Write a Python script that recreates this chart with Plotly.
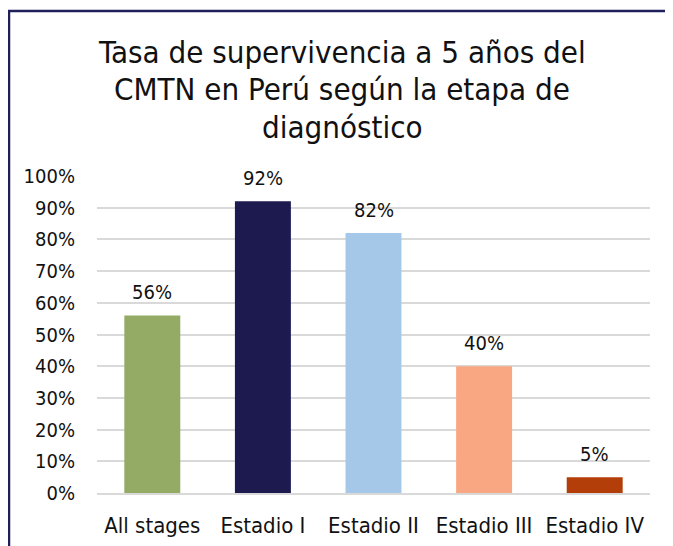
import plotly.graph_objects as go

categories = ["All stages", "Estadio I", "Estadio II", "Estadio III", "Estadio IV"]
survival = [0.56, 0.92, 0.82, 0.40, 0.05]
bar_colors = ["#94AB65", "#1C1A4E", "#A6C8E8", "#F9A783", "#B33E0A"]
labels = ["56%", "92%", "82%", "40%", "5%"]
title_lines = ["Tasa de supervivencia a 5 años del", "CMTN en Perú según la etapa de", "diagnóstico"]

FONT = "DejaVu Sans Condensed, DejaVu Sans, sans-serif"
TXT = "#111111"

# plot area in figure pixels
L, R, T, B = 89, 31, 168, 61
W, H = 673, 546
PH = H - T - B
PW = W - L - R

fig = go.Figure()
fig.add_trace(go.Bar(x=categories, y=survival, marker=dict(color=bar_colors, line=dict(width=0)),
                     hoverinfo="skip"))

for c, v, t in zip(categories, survival, labels):
    fig.add_annotation(x=c, y=v, text=t, showarrow=False, yanchor="bottom", yshift=9,
                       font=dict(size=20, color=TXT, family=FONT))

# title, one line per annotation for exact line spacing
for i, line in enumerate(title_lines):
    fy = 44 + i * 37.5
    fig.add_annotation(xref="paper", yref="paper", x=(334 - L) / PW, y=(H - B - fy) / PH,
                       xanchor="center", yanchor="middle", text=line, showarrow=False,
                       font=dict(size=31, color=TXT, family=FONT))

fig.add_shape(type="rect", xref="paper", yref="paper", x0=(1 - L) / PW, x1=1.07, y0=-0.24,
              y1=(H - B - 3) / PH,
              line=dict(color="#1F1F5C", width=2.5), fillcolor="rgba(0,0,0,0)", layer="above")

fig.update_layout(
    width=W, height=H,
    margin=dict(l=L, r=R, t=T, b=B),
    paper_bgcolor="white", plot_bgcolor="white",
    bargap=0.494,
    showlegend=False,
    font=dict(family=FONT, color=TXT, size=20),
    xaxis=dict(showgrid=False, showline=True, linecolor="#D9D9D9", linewidth=2,
               ticks="", tickfont=dict(size=22), ticklabelstandoff=12),
    yaxis=dict(range=[0, 1], dtick=0.1, tickformat=".0%", showgrid=True,
               gridcolor="#D9D9D9", gridwidth=1.8, zeroline=False, showline=False,
               ticks="", tickfont=dict(size=20), ticklabelstandoff=21),
)

fig.write_html("out.html")
